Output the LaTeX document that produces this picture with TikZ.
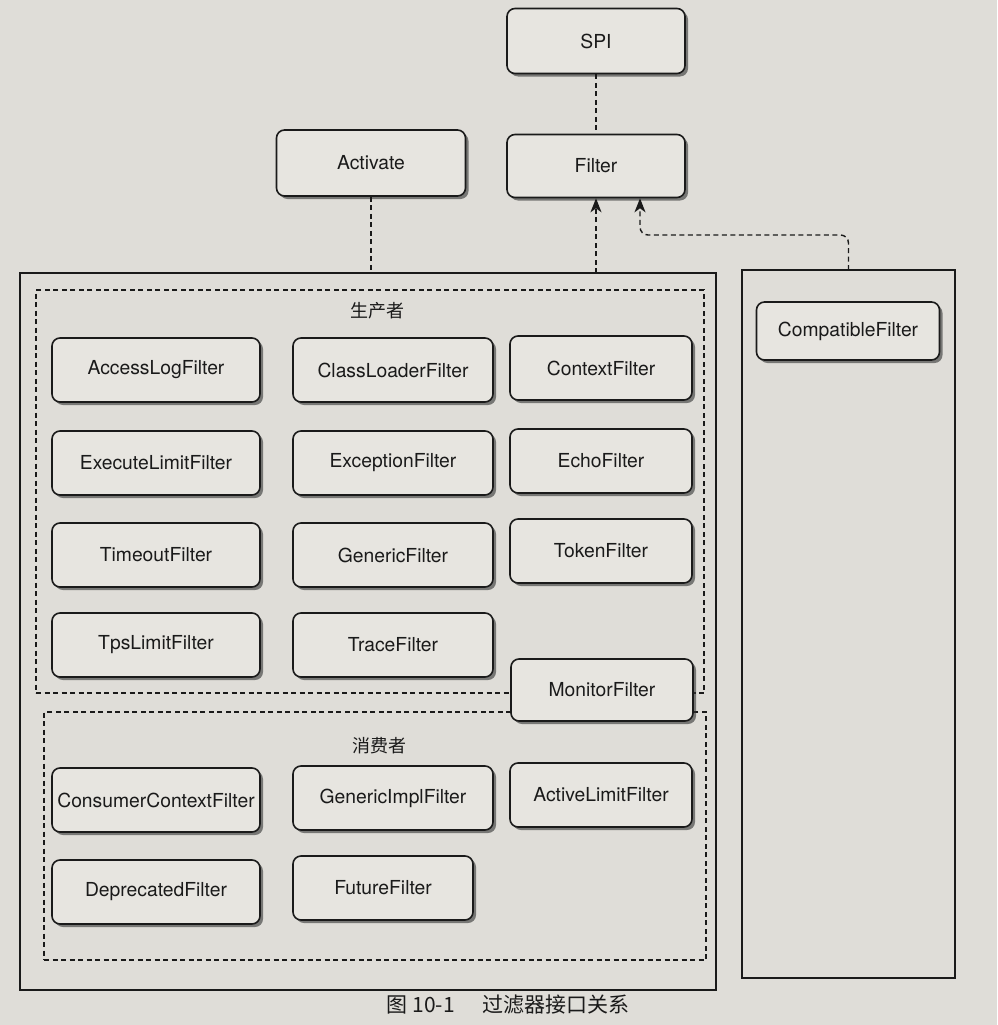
\documentclass[tikz,border=0pt]{standalone}
\usepackage{fontspec}
\setmainfont{TeX Gyre Heros}
\newfontfamily\cjk{Noto Sans CJK SC}
\usetikzlibrary{arrows.meta,shadows,calc}
\definecolor{paper}{HTML}{DFDDD8}
\definecolor{boxfill}{HTML}{E7E5E0}
\definecolor{ink}{HTML}{1A1A1A}
\begin{document}
\begin{tikzpicture}[x=1pt,y=-1pt,
  box/.style={draw=ink, line width=1.6pt, fill=boxfill, rounded corners=8pt,
    minimum height=64pt, inner sep=0pt, text=ink,
    font=\fontsize{19.3}{22}\selectfont,
    drop shadow={shadow xshift=3pt, shadow yshift=-3pt, fill=black!80, opacity=0.6}},
  frame/.style={draw=ink, line width=1.5pt, inner sep=0pt, outer sep=0pt},
  group/.style={draw=ink, line width=1.4pt, dash pattern=on 5pt off 3.5pt, inner sep=0pt, outer sep=0pt},
  link/.style={draw=ink, line width=1.4pt, dash pattern=on 5pt off 3.5pt},
  tip/.style={-{Stealth[length=14pt,width=11pt,inset=4pt]}},
  cjklabel/.style={font=\cjk\fontsize{18}{20}\selectfont, text=ink}
]
\fill[paper] (0,0) rectangle (997,1025);
\useasboundingbox (0,0) rectangle (997,1025);

% top
\node[box, minimum width=178pt, minimum height=65pt] (spi) at (596,41) {SPI};
\node[box, minimum width=189pt, minimum height=66pt] (activate) at (371,163) {Activate};
\node[box, minimum width=178pt, minimum height=63pt] (filter) at (596,166) {Filter};

% frames
\node[frame, minimum width=696pt, minimum height=717pt] (outer) at (368,631.5) {};
\node[frame, minimum width=213pt, minimum height=708pt] (rbox) at (848.5,624) {};

% groups
\node[group, minimum width=668pt, minimum height=403pt] (prod) at (370,491.5) {};
\node[group, minimum width=662pt, minimum height=248pt] (cons) at (375,836) {};
\node[cjklabel] (prodlabel) at (377,311) {生产者};
\node[cjklabel] (conslabel) at (379,746) {消费者};

% producer
\node[box, minimum width=208pt] (accesslog) at (156,370) {AccessLogFilter};
\node[box, minimum width=200pt] (classloader) at (393,370) {ClassLoaderFilter};
\node[box, minimum width=182pt] (context) at (601,368) {ContextFilter};
\node[box, minimum width=208pt] (executelimit) at (156,463) {ExecuteLimitFilter};
\node[box, minimum width=200pt] (exception) at (393,463) {ExceptionFilter};
\node[box, minimum width=182pt] (echo) at (601,461) {EchoFilter};
\node[box, minimum width=208pt] (timeout) at (156,555) {TimeoutFilter};
\node[box, minimum width=200pt] (generic) at (393,555) {GenericFilter};
\node[box, minimum width=182pt] (token) at (601,551) {TokenFilter};
\node[box, minimum width=208pt] (tpslimit) at (156,645) {TpsLimitFilter};
\node[box, minimum width=200pt] (trace) at (393,645) {TraceFilter};
\node[box, minimum width=182pt, minimum height=62pt] (monitor) at (602,690) {MonitorFilter};

% consumer
\node[box, minimum width=208pt] (consumercontext) at (156,800) {ConsumerContextFilter};
\node[box, minimum width=200pt] (genericimpl) at (393,798) {GenericImplFilter};
\node[box, minimum width=182pt] (activelimit) at (601,795) {ActiveLimitFilter};
\node[box, minimum width=208pt] (deprecated) at (156,892) {DeprecatedFilter};
\node[box, minimum width=180pt] (future) at (383,888) {FutureFilter};

% compatible
\node[box, minimum width=183pt, minimum height=58pt] (compatible) at (848,331) {CompatibleFilter};

% connectors
\draw[link] (spi.south) -- (filter.north);
\draw[link] (activate.south) -- (activate.south |- outer.north);
\draw[link,tip] (filter.south |- outer.north) -- (filter.south);
\draw[link,tip,rounded corners=8pt] (rbox.north) -- ++(0,-35) -| ([xshift=44pt]filter.south);

% caption
\node[font=\cjk\fontsize{21}{23}\selectfont, text=ink] (caption) at (508,1005) {图 10-1\hspace{1.3em}过滤器接口关系};
\end{tikzpicture}
\end{document}
